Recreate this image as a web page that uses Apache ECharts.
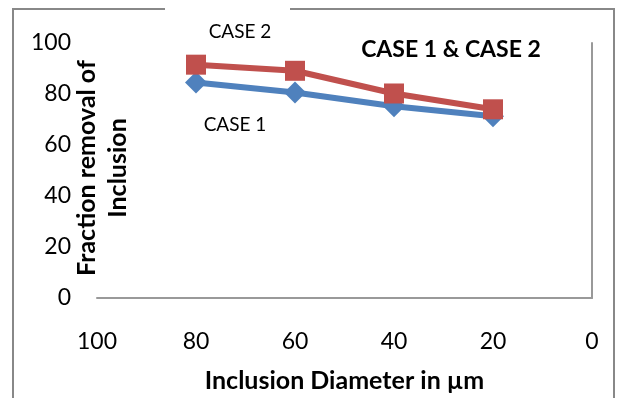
<!DOCTYPE html>
<html>
<head>
<meta charset="utf-8">
<script src="https://cdn.jsdelivr.net/npm/echarts@6/dist/echarts.min.js"></script>
<style>
html,body{margin:0;padding:0;background:#fff;}
#chart{width:617px;height:398px;}
</style>
</head>
<body>
<div id="chart"></div>
<script>
// Data
var diameters = [80, 60, 40, 20];
var case1 = [84.5, 80.6, 75.2, 71.3];
var case2 = [91.5, 89.1, 80.2, 74.0];
var xTicks = [100, 80, 60, 40, 20, 0];
var yTicks = [0, 20, 40, 60, 80, 100];
var seriesNames = ['CASE 1', 'CASE 2'];

var FONT = 'Lato';
var chart = echarts.init(document.getElementById('chart'), null, {renderer: 'canvas'});

function pairs(xs, ys) { return xs.map(function (x, i) { return [x, ys[i]]; }); }

var option = {
  backgroundColor: '#ffffff',
  animation: false,
  title: {
    text: 'CASE 1 & CASE 2',
    left: 446, top: 33,
    textAlign: 'center',
    textStyle: {fontFamily: FONT, fontWeight: 'bold', fontSize: 23, color: '#000'}
  },
  grid: {left: 97, right: 25, top: 43, bottom: 97, containLabel: false},
  xAxis: {
    type: 'value', min: 0, max: 100, interval: 20, inverse: true,
    axisLine: {show: true, lineStyle: {color: '#999', width: 2}},
    axisTick: {show: false},
    splitLine: {show: false},
    axisLabel: {fontFamily: FONT, fontSize: 23, color: '#000', margin: 32,
      formatter: function (v) { return xTicks.indexOf(v) >= 0 ? String(v) : ''; }},
    name: 'Inclusion Diameter in µm',
    nameLocation: 'middle', nameGap: 70,
    nameTextStyle: {fontFamily: FONT, fontWeight: 'bold', fontSize: 25, color: '#000'}
  },
  yAxis: [{
    type: 'value', min: 0, max: 100, interval: 20,
    axisLine: {show: false}, axisTick: {show: false}, splitLine: {show: false},
    axisLabel: {fontFamily: FONT, fontSize: 23, color: '#000', margin: 26,
      formatter: function (v) { return yTicks.indexOf(v) >= 0 ? String(v) : ''; }}
  }, {
    type: 'value', min: 0, max: 100, interval: 20, position: 'right',
    axisLine: {show: true, lineStyle: {color: '#999', width: 2}},
    axisTick: {show: false}, splitLine: {show: false}, axisLabel: {show: false}
  }],
  series: [{
    name: seriesNames[0], type: 'line', data: pairs(diameters, case1),
    symbol: 'diamond', symbolSize: 22,
    lineStyle: {color: '#4F81BD', width: 6},
    itemStyle: {color: '#4F81BD'}
  }, {
    name: seriesNames[1], type: 'line', data: pairs(diameters, case2),
    symbol: 'rect', symbolSize: 20,
    lineStyle: {color: '#C0504D', width: 6},
    itemStyle: {color: '#C0504D'}
  }],
  graphic: [
    {type: 'polyline', silent: true, shape: {points: [[165, 9], [13, 9], [13, 398]]},
     style: {stroke: '#888', lineWidth: 2, fill: null}},
    {type: 'polyline', silent: true, shape: {points: [[290, 9], [614, 9], [614, 398]]},
     style: {stroke: '#888', lineWidth: 2, fill: null}},
    {type: 'text', x: 240, y: 32, silent: true,
     style: {text: seriesNames[1], fontFamily: FONT, fontSize: 19, fill: '#000', align: 'center', verticalAlign: 'middle'}},
    {type: 'text', x: 235, y: 125, silent: true,
     style: {text: seriesNames[0], fontFamily: FONT, fontSize: 19, fill: '#000', align: 'center', verticalAlign: 'middle'}},
    {type: 'text', x: 102, y: 168, rotation: Math.PI / 2, silent: true,
     style: {text: 'Fraction removal of\nInclusion', fontFamily: FONT, fontWeight: 'bold', fontSize: 25,
             lineHeight: 31, fill: '#000', align: 'center', verticalAlign: 'middle'}}
  ]
};
chart.setOption(option);
</script>
</body>
</html>
